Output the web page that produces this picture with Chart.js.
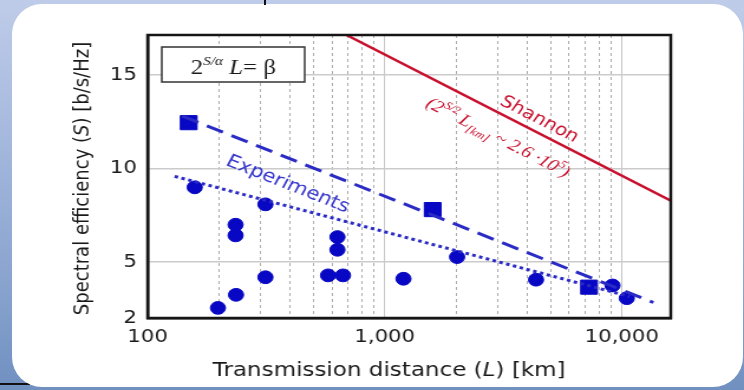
<!DOCTYPE html>
<html>
<head>
<meta charset="utf-8">
<script src="https://cdn.jsdelivr.net/npm/chart.js@4.4.1/dist/chart.umd.min.js"></script>
<style>
  html, body { margin: 0; padding: 0; }
  body {
    width: 744px; height: 390px; position: relative; overflow: hidden;
    background: linear-gradient(to bottom, #bfcce9 0%, #a9bbdf 30%, #8ba5d0 70%, #7090c0 100%);
  }
  .card { position: absolute; left: 12px; top: 4px; width: 731px; height: 383px; background: #fff; border-radius: 30px; }
  .mark { position: absolute; left: 264px; top: 0; width: 2px; height: 5px; background: #111; }
  .rule { position: absolute; left: 0; top: 383px; width: 30px; height: 2px; background: #111; }
  #chart { position: absolute; left: 0; top: 0; }
</style>
</head>
<body>
<div class="rule"></div>
<div class="card"></div>
<div class="mark"></div>
<!-- drawn at 630 wide and stretched to 744, like the picture in the slide -->
<canvas id="chart" width="630" height="390" style="width:744px;height:390px"></canvas>
<script>
// measured experiments (distance km, spectral efficiency b/s/Hz)
const circleDist = [158, 198, 235, 235, 236, 314, 314, 577, 667, 632, 632, 1200, 2020, 4350, 9140, 10500];
const circleEff  = [8.99, 2.54, 6.99, 6.42, 3.24, 8.08, 4.18, 4.28, 4.28, 6.33, 5.65, 4.10, 5.26, 4.05, 3.74, 3.06];
const squareDist = [149, 1594, 7280];
const squareEff  = [12.45, 7.80, 3.65];

// limit lines
const shannonDist = [690, 16100];
const shannonEff  = [17.14, 8.28];
const dashedDist = [140, 13600];
const dashedEff  = [12.8, 2.83];
const dottedDist = [130, 10800];
const dottedEff  = [9.58, 3.15];

// axes
const xGridValues = [100, 200, 300, 400, 500, 600, 700, 800, 900,
                     1000, 2000, 3000, 4000, 5000, 6000, 7000, 8000, 9000, 10000];
const xLabelValues = [100, 1000, 10000];
const xLabelText = ['100', '1,000', '10,000'];
const yTickValues = [2, 5, 10, 15];

const pts = (xs, ys) => xs.map((v, i) => ({x: v, y: ys[i]}));
const isDecade = c => !c.tick || xLabelValues.includes(c.tick.value);

function runsWidth(ctx, runs) {
  let w = 0;
  for (const r of runs) { ctx.font = r.font; w += ctx.measureText(r.t).width; }
  return w;
}
function drawRuns(ctx, runs, x, y) {
  for (const r of runs) {
    ctx.font = r.font;
    ctx.fillText(r.t, x, y + (r.dy || 0));
    x += ctx.measureText(r.t).width;
  }
}
function lineAngle(x, y, xs, ys) {
  const dx = x.getPixelForValue(xs[1]) - x.getPixelForValue(xs[0]);
  const dy = y.getPixelForValue(ys[1]) - y.getPixelForValue(ys[0]);
  return Math.atan2(dy, dx);
}
function rotatedRuns(ctx, runs, px, py, ang, color) {
  ctx.save();
  ctx.translate(px, py);
  ctx.rotate(ang);
  ctx.fillStyle = color;
  ctx.textBaseline = 'alphabetic';
  drawRuns(ctx, runs, -runsWidth(ctx, runs) / 2, 6);
  ctx.restore();
}

const annotations = {
  id: 'annotations',
  afterDatasetsDraw(chart) {
    const {ctx, chartArea: a, scales: {x, y}} = chart;
    ctx.save();

    // frame
    ctx.strokeStyle = '#151515';
    ctx.lineWidth = 2.5;
    ctx.strokeRect(a.left, a.top, a.right - a.left, a.bottom - a.top);

    // formula box
    const bx = a.left + 12, by = a.top + 12, bw = 121, bh = 35;
    ctx.fillStyle = '#fff';
    ctx.fillRect(bx, by, bw, bh);
    ctx.strokeStyle = '#333';
    ctx.lineWidth = 1.5;
    ctx.strokeRect(bx, by, bw, bh);
    const serif = '"Liberation Serif", "DejaVu Serif", serif';
    const boxRuns = [
      {t: '2', font: '21px ' + serif},
      {t: 'S/α', font: 'italic 13px ' + serif, dy: -9},
      {t: ' L', font: 'italic 21px ' + serif},
      {t: '= β', font: '21px ' + serif}
    ];
    ctx.fillStyle = '#1a1a1a';
    ctx.textBaseline = 'alphabetic';
    drawRuns(ctx, boxRuns, bx + (bw - runsWidth(ctx, boxRuns)) / 2, by + 27);

    // Shannon labels
    const redAng = lineAngle(x, y, shannonDist, shannonEff);
    rotatedRuns(ctx, [{t: 'Shannon', font: '17px "DejaVu Sans"'}],
      x.getPixelForValue(4530), y.getPixelForValue(12.69), redAng, '#c8102e');
    const fRuns = [
      {t: '(2', font: 'italic 17px ' + serif},
      {t: 'S/2', font: 'italic 11px ' + serif, dy: -7},
      {t: ' L', font: 'italic 17px ' + serif},
      {t: '[km]', font: 'italic 11px ' + serif, dy: 4},
      {t: ' ~ 2.6 ·10', font: 'italic 17px ' + serif},
      {t: '5', font: 'italic 11px ' + serif, dy: -7},
      {t: ')', font: 'italic 17px ' + serif}
    ];
    rotatedRuns(ctx, fRuns, x.getPixelForValue(3027), y.getPixelForValue(11.70), redAng, '#c8102e');

    // Experiments label
    const blueAng = lineAngle(x, y, dashedDist, dashedEff);
    rotatedRuns(ctx, [{t: 'Experiments', font: '18px "DejaVu Sans"'}],
      x.getPixelForValue(392), y.getPixelForValue(9.21), blueAng, '#3434cc');

    // axis titles
    ctx.fillStyle = '#1a1a1a';
    const xt = [
      {t: 'Transmission distance (', font: '19.5px "DejaVu Sans"'},
      {t: 'L', font: 'italic 19.5px "DejaVu Sans"'},
      {t: ') [km]', font: '19.5px "DejaVu Sans"'}
    ];
    drawRuns(ctx, xt, (a.left + a.right) / 2 - 17 - runsWidth(ctx, xt) / 2, a.bottom + 58);

    const yt = [
      {t: 'Spectral efficiency (', font: '18px "DejaVu Sans"'},
      {t: 'S', font: 'italic 18px "DejaVu Sans"'},
      {t: ') [b/s/Hz]', font: '18px "DejaVu Sans"'}
    ];
    ctx.save();
    ctx.translate(a.left - 50.5, (a.top + a.bottom) / 2 + 2);
    ctx.rotate(-Math.PI / 2);
    drawRuns(ctx, yt, -runsWidth(ctx, yt) / 2, 0);
    ctx.restore();

    ctx.restore();
  }
};

const blue = '#0707c4';
new Chart(document.getElementById('chart'), {
  type: 'scatter',
  data: {
    datasets: [
      {data: pts(shannonDist, shannonEff), showLine: true, borderColor: '#c8102e', borderWidth: 2.5, pointRadius: 0},
      {data: pts(dashedDist, dashedEff), showLine: true, borderColor: '#2a2ac4', borderWidth: 3, borderDash: [15, 8], pointRadius: 0},
      {data: pts(dottedDist, dottedEff), showLine: true, borderColor: '#2a2ac4', borderWidth: 3, borderDash: [3, 3], pointRadius: 0},
      {data: pts(circleDist, circleEff), pointStyle: 'circle', pointRadius: 6.4, backgroundColor: blue, borderColor: blue, borderWidth: 1},
      {data: pts(squareDist, squareEff), pointStyle: 'rect', pointRadius: 10, backgroundColor: blue, borderColor: blue, borderWidth: 1}
    ]
  },
  options: {
    responsive: false,
    animation: false,
    devicePixelRatio: 1,
    layout: {padding: {left: 0, right: 62, top: 35, bottom: 0}},
    plugins: {legend: {display: false}, tooltip: {enabled: false}},
    scales: {
      x: {
        type: 'logarithmic', min: 100, max: 16100,
        afterBuildTicks: s => { s.ticks = xGridValues.map(v => ({value: v})); },
        afterFit: s => { s.height = 72; },
        ticks: {
          autoSkip: false, maxRotation: 0, minRotation: 0, padding: 9, color: '#1a1a1a',
          font: {family: 'DejaVu Sans', size: 18},
          callback: v => { const i = xLabelValues.indexOf(v); return i < 0 ? '' : xLabelText[i]; }
        },
        grid: {drawTicks: false, lineWidth: 1, color: c => isDecade(c) ? '#c6c6c6' : '#acacac'},
        border: {color: '#151515', width: 2.5, dash: c => isDecade(c) ? [] : [3, 3]}
      },
      y: {
        min: 2, max: 17.14,
        afterBuildTicks: s => { s.ticks = yTickValues.map(v => ({value: v})); },
        afterFit: s => { s.width = 125; },
        ticks: {padding: 9, color: '#1a1a1a', font: {family: 'DejaVu Sans', size: 18}},
        grid: {drawTicks: false, lineWidth: 1.5, color: '#cbcbcb'},
        border: {color: '#151515', width: 2.5}
      }
    }
  },
  plugins: [annotations]
});
</script>
</body>
</html>
